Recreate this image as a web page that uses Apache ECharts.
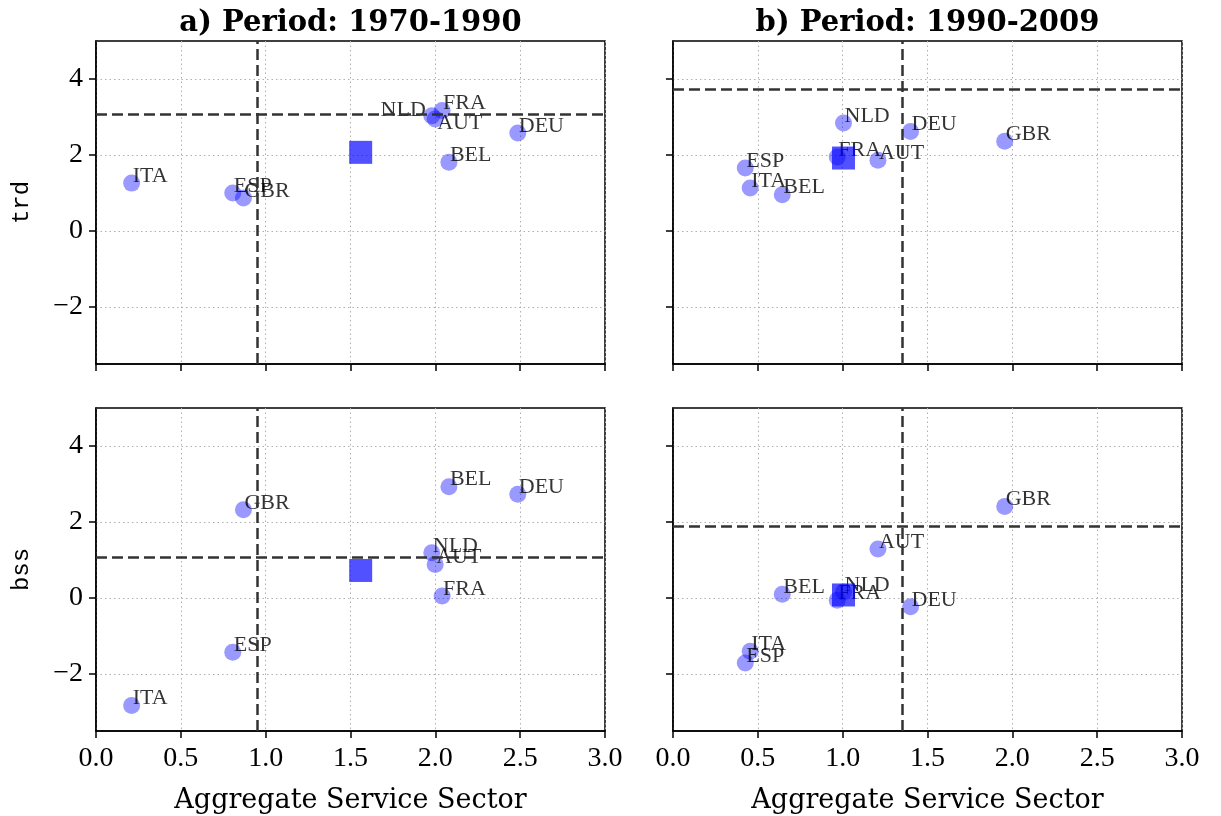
<!DOCTYPE html>
<html>
<head>
<meta charset="utf-8">
<script src="https://cdn.jsdelivr.net/npm/echarts@6/dist/echarts.min.js"></script>
<style>
html,body{margin:0;padding:0;background:#fff;}
#chart{width:1221px;height:816px;}
</style>
</head>
<body>
<div id="chart"></div>
<script>
// ---- data ----
const countries = ['ITA','ESP','GBR','NLD','AUT','FRA','BEL','DEU'];

// Period a) 1970-1990
const serviceA = [0.21, 0.806, 0.869, 1.979, 1.999, 2.04, 2.08, 2.486];
const trdA     = [1.26, 1.00, 0.87, 3.03, 2.95, 3.17, 1.81, 2.58];
const bssA     = [-2.83, -1.43, 2.32, 1.19, 0.88, 0.05, 2.93, 2.73];
const meanA    = {x: 1.56, trd: 2.07, bss: 0.725};
const aggA     = {x: 0.947, trd: 3.07, bss: 1.07};

// Period b) 1990-2009
const serviceB = [0.455, 0.426, 1.955, 1.005, 1.208, 0.968, 0.644, 1.40];
const trdB     = [1.13, 1.66, 2.36, 2.84, 1.86, 1.95, 0.955, 2.62];
const bssB     = [-1.40, -1.71, 2.41, 0.16, 1.29, -0.06, 0.10, -0.23];
const meanB    = {x: 1.005, trd: 1.92, bss: 0.08};
const aggB     = {x: 1.349, trd: 3.74, bss: 1.88};

const titles = ['a) Period: 1970-1990', 'b) Period: 1990-2009'];
const xTicks = [0, 0.5, 1, 1.5, 2, 2.5, 3];
const yTicks = [-2, 0, 2, 4];
const xName = 'Aggregate Service Sector';
const rowNames = ['trd', 'bss'];

// ---- chart ----
const SERIF = '"Liberation Serif", "Times New Roman", serif';
const WIDE = '"DejaVu Serif", serif';
const MONO = '"Liberation Mono", "Courier New", monospace';
const SYM = 17;
const panels = [
  {xs: serviceA, ys: trdA, mean: [meanA.x, meanA.trd], agg: [aggA.x, aggA.trd], row: 0, col: 0},
  {xs: serviceB, ys: trdB, mean: [meanB.x, meanB.trd], agg: [aggB.x, aggB.trd], row: 0, col: 1},
  {xs: serviceA, ys: bssA, mean: [meanA.x, meanA.bss], agg: [aggA.x, aggA.bss], row: 1, col: 0},
  {xs: serviceB, ys: bssB, mean: [meanB.x, meanB.bss], agg: [aggB.x, aggB.bss], row: 1, col: 1}
];
// label placement overrides (panel index -> country -> label style)
const labelOverrides = {
  0: {
    NLD: {align: 'right', verticalAlign: 'bottom', position: [SYM / 2 - 6, SYM / 2 + 5]},
    AUT: {align: 'left', verticalAlign: 'top', position: [SYM / 2 + 2, SYM / 2 - 7]}
  }
};

const gridLeft = [96, 673];
const gridTop = [41, 408];
const grids = [], xAxes = [], yAxes = [], series = [];

panels.forEach((p, i) => {
  grids.push({left: gridLeft[p.col], top: gridTop[p.row], width: 509, height: 323,
    show: true, borderColor: '#000', borderWidth: 1.5, backgroundColor: 'transparent'});
  const bottom = p.row === 1;
  xAxes.push({
    type: 'value', gridIndex: i, min: 0, max: 3, interval: 0.5,
    axisLine: {show: true, onZero: false, lineStyle: {color: '#000', width: 1.5}},
    axisTick: {show: true, length: 7, inside: false, lineStyle: {color: '#000', width: 1.5}},
    axisLabel: {show: bottom, margin: 14, fontFamily: SERIF, fontSize: 28, color: '#000',
      formatter: v => v.toFixed(1)},
    splitLine: {show: true, lineStyle: {type: [1.5, 3], color: '#b0b0b0', width: 1}},
    name: bottom ? xName : '', nameLocation: 'middle', nameGap: 56,
    nameTextStyle: {fontFamily: WIDE, fontSize: 27, color: '#000'}
  });
  yAxes.push({
    type: 'value', gridIndex: i, min: -3.5, max: 5,
    axisLine: {show: true, onZero: false, lineStyle: {color: '#000', width: 1.5}},
    axisTick: {show: true, length: 7, inside: false, customValues: yTicks, lineStyle: {color: '#000', width: 1.5}},
    axisLabel: {show: p.col === 0, customValues: yTicks, margin: 13, fontFamily: SERIF, fontSize: 28, color: '#000',
      formatter: v => (v < 0 ? '\u2212' + Math.abs(v) : String(v))},
    splitLine: {show: true, lineStyle: {type: [1.5, 3], color: '#b0b0b0', width: 1}},
    name: p.col === 0 ? rowNames[p.row] : '', nameLocation: 'middle', nameGap: 62,
    nameTextStyle: {fontFamily: MONO, fontSize: 24, color: '#000'}
  });
  const ov = labelOverrides[i] || {};
  const data = countries.map((c, k) => {
    const item = {name: c, value: [p.xs[k], p.ys[k]]};
    if (ov[c]) item.label = ov[c];
    return item;
  });
  series.push({
    type: 'scatter', xAxisIndex: i, yAxisIndex: i, symbol: 'circle', symbolSize: SYM,
    itemStyle: {color: 'rgba(0,0,255,0.5)'},
    label: {show: true, formatter: '{b}', position: [SYM / 2 + 1, SYM / 2 + 4], align: 'left', verticalAlign: 'bottom',
      fontFamily: SERIF, fontSize: 22, color: '#000'},
    data: data, z: 3,
    emphasis: {disabled: true},
    markLine: {
      silent: true, symbol: 'none', animation: false,
      label: {show: false},
      lineStyle: {type: [11, 5], color: '#333', width: 2.5},
      data: [{xAxis: p.agg[0]}, {yAxis: p.agg[1]}]
    }
  });
  series.push({
    type: 'scatter', xAxisIndex: i, yAxisIndex: i, symbol: 'rect', symbolSize: 23,
    itemStyle: {color: 'rgba(0,0,255,0.85)'},
    data: [p.mean], z: 4, emphasis: {disabled: true}
  });
});

const chart = echarts.init(document.getElementById('chart'), null, {renderer: 'canvas'});
chart.setOption({
  animation: false,
  backgroundColor: '#fff',
  grid: grids, xAxis: xAxes, yAxis: yAxes, series: series,
  graphic: [
    {type: 'text', x: 350.5, y: 23, style: {text: titles[0], align: 'center', verticalAlign: 'middle',
      font: 'bold 29px "DejaVu Serif"', fill: '#000'}},
    {type: 'text', x: 927.5, y: 23, style: {text: titles[1], align: 'center', verticalAlign: 'middle',
      font: 'bold 29px "DejaVu Serif"', fill: '#000'}}
  ]
});
</script>
</body>
</html>
